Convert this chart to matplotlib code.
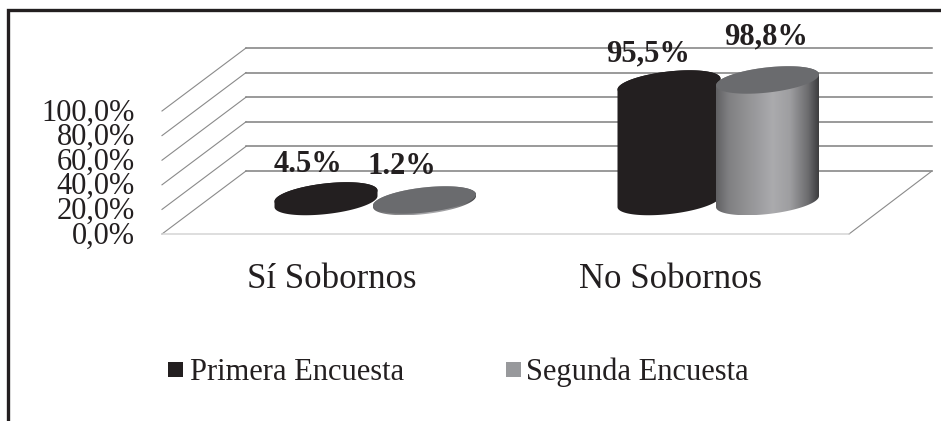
"""
Cylinder chart of the two bribery surveys, drawn in image pixel coordinates.
"""

import numpy as np
import matplotlib
matplotlib.use("Agg")
import matplotlib.pyplot as plt
from matplotlib.patches import Polygon, Rectangle

categories = ["Sí Sobornos", "No Sobornos"]
series_names = ["Primera Encuesta", "Segunda Encuesta"]
primera = [4.5, 95.5]
segunda = [1.2, 98.8]
primera_labels = ["4.5%", "95,5%"]
segunda_labels = ["1.2%", "98,8%"]
axis_values = [0, 20, 40, 60, 80, 100]
axis_labels = ["0,0%", "20,0%", "40,0%", "60,0%", "80,0%", "100,0%"]

PX_PER_UNIT = 1.23
FLOOR_FRONT = 234
FLOOR_BACK = 171
BASE_Y = 201.5
HALF_W = 51.5
BLACK = "#231f20"
GREY_TOP = "#6a6b6e"
GREY_KEY = "#98999c"

plt.rcParams["font.family"] = ["Liberation Serif", "DejaVu Serif"]


def ellipse_points(cx, cy, start, stop):
    """
    Points of the tilted ellipse that forms a cylinder end.
    """
    t = np.linspace(start, stop, 80)
    xs = cx + HALF_W * np.cos(t)
    ys = cy - 5.5 * np.cos(t) + 12.6 * np.sin(t)
    return np.column_stack([xs, ys])


def cylinder(ax, cx, value, side, top, zorder):
    """
    Draw one cylinder, flat colour or a horizontal shading for the side.
    """
    top_y = BASE_Y - value * PX_PER_UNIT
    outline = np.vstack([ellipse_points(cx, BASE_Y, np.pi, 0),
                         ellipse_points(cx, top_y, 0, -np.pi)])
    body = Polygon(outline, closed=True, facecolor=BLACK, edgecolor="none",
                   zorder=zorder)
    ax.add_patch(body)
    if side is not None:
        body.set_facecolor("none")
        shade = ax.imshow(side, aspect="auto", zorder=zorder,
                          extent=[cx - HALF_W, cx + HALF_W, BASE_Y + 14,
                                  top_y - 14],
                          interpolation="bicubic")
        shade.set_clip_path(body)
    ax.add_patch(Polygon(ellipse_points(cx, top_y, 0, 2 * np.pi), closed=True,
                         facecolor=top, edgecolor="none", zorder=zorder + 0.5))


fig = plt.figure(figsize=(9.41, 4.21), dpi=100)
ax = fig.add_axes([0, 0, 1, 1])
ax.set_xlim(0, 941)
ax.set_ylim(421, 0)
ax.axis("off")

# frame, open on the right and at the bottom
ax.plot([8.5, 8.5, 941], [421, 10, 10], color=BLACK, linewidth=2.4,
        solid_joinstyle="miter")

# back wall and the side of the floor
for value in axis_values:
    back = FLOOR_BACK - value * PX_PER_UNIT
    front = FLOOR_FRONT - value * PX_PER_UNIT
    ax.plot([162, 246], [front, back], color="#8a8a8a", linewidth=0.8)
    ax.plot([246, 932], [back, back], color="#7f7f7f", linewidth=1.1)
    ax.text(135, front + 2, axis_labels[axis_values.index(value)], ha="right",
            va="center", fontsize=22, color=BLACK)
ax.plot([932, 849], [FLOOR_BACK, FLOOR_FRONT], color="#8a8a8a", linewidth=0.8)
ax.plot([162, 849], [FLOOR_FRONT, FLOOR_FRONT], color="#d4d4d4", linewidth=1.1)

stops = [0, 0.12, 0.55, 0.72, 0.9, 1]
levels = [0.38, 0.50, 0.67, 0.62, 0.42, 0.24]
pos = np.linspace(0, 1, 120)
grey = np.interp(pos, stops, levels)
gradient = np.repeat(np.column_stack([grey, grey, grey + 0.01])[np.newaxis],
                     2, axis=0)

for centre, value in zip([326, 669], primera):
    cylinder(ax, centre, value, None, BLACK, 3)
for centre, value in zip([424.5, 767.5], segunda):
    cylinder(ax, centre, value, gradient, GREY_TOP, 4)

ax.set_xlim(0, 941)
ax.set_ylim(421, 0)

for x, y, label in zip([308.5, 648.5], [165, 54], primera_labels):
    ax.text(x, y, label, ha="center", va="center", fontsize=22,
            fontweight="bold", color=BLACK, zorder=6)
for x, y, label in zip([402, 766.5], [167, 37], segunda_labels):
    ax.text(x, y, label, ha="center", va="center", fontsize=22,
            fontweight="bold", color=BLACK, zorder=6)

for x, label in zip([331.5, 671], categories):
    ax.text(x, 279, label, ha="center", va="center", fontsize=25, color=BLACK)

# legend
for x, colour, text_x, label in zip([168, 506], [BLACK, GREY_KEY], [190, 526],
                                    series_names):
    ax.add_patch(Rectangle((x, 362), 15.5, 15, facecolor=colour,
                           edgecolor="none"))
    ax.text(text_x, 372, label, ha="left", va="center", fontsize=22,
            color=BLACK)

fig.savefig("out.png", dpi=100)
